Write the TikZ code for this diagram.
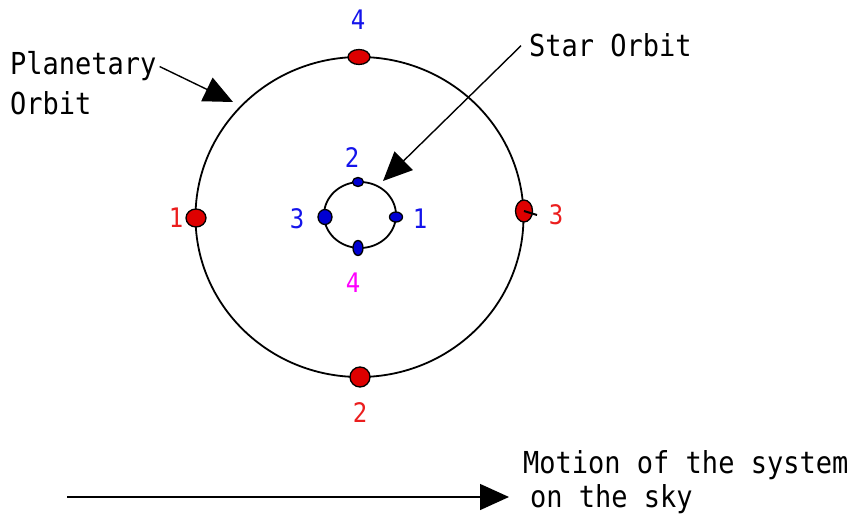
\documentclass[tikz,border=0pt]{standalone}
\usepackage{fontspec}
\setmonofont{DejaVu Sans Mono}
\usetikzlibrary{arrows.meta,shapes.geometric}
\definecolor{dotred}{RGB}{222,0,0}
\definecolor{dotblue}{RGB}{0,0,210}
\definecolor{labred}{RGB}{235,30,30}
\definecolor{labblue}{RGB}{20,20,235}
\definecolor{labmag}{RGB}{255,0,255}
\newcommand\vstretch[1]{\scalebox{1}[1.12]{#1}}
\begin{document}
\begin{tikzpicture}[x=1pt,y=-1pt,
  orbit/.style={draw=black,line width=1.8pt},
  dotnode/.style={ellipse,draw=black,line width=1.3pt,inner sep=0pt},
  pdot/.style={dotnode,fill=dotred},
  sdot/.style={dotnode,fill=dotblue},
  numlbl/.style={inner sep=0pt,font=\fontsize{24}{24}\selectfont\ttfamily},
  txt/.style={inner sep=0pt,anchor=base west,font=\fontsize{27}{27}\selectfont\ttfamily},
  arr/.style={line width=1.4pt,-{Triangle[length=29pt,width=26pt]}}]
\useasboundingbox (0,0) rectangle (857,521);
% orbits
\draw[orbit] (359.5,217) ellipse [x radius=164, y radius=160];
\draw[orbit] (360,215) ellipse [x radius=36, y radius=33];
% planet positions
\node[pdot,minimum width=22pt,minimum height=15pt] (p4) at (359,57) {};
\node[pdot,minimum width=20pt,minimum height=18pt] (p1) at (196,218) {};
\node[pdot,minimum width=20pt,minimum height=20pt] (p2) at (360,377) {};
\node[pdot,minimum width=17pt,minimum height=22pt] (p3) at (524,211) {};
\draw[line width=2pt] (p3.center) -- ++(13,4) coordinate (p3bar);
% star positions
\node[sdot,minimum width=11pt,minimum height=9pt] (s2) at (358,182) {};
\node[sdot,minimum width=14pt,minimum height=15pt] (s3) at (325,217) {};
\node[sdot,minimum width=13pt,minimum height=10pt] (s1) at (396,217) {};
\node[sdot,minimum width=10pt,minimum height=15pt] (s4) at (358,248) {};
% planet labels
\node[numlbl,text=labblue] (lp4) at (358,20) {\vstretch{4}};
\node[numlbl,text=labred] (lp1) at (176,218) {\vstretch{1}};
\node[numlbl,text=labred] (lp3) at (556,215) {\vstretch{3}};
\node[numlbl,text=labred] (lp2) at (360,413) {\vstretch{2}};
% star labels
\node[numlbl,text=labblue] (ls2) at (352,158) {\vstretch{2}};
\node[numlbl,text=labblue] (ls3) at (297,219) {\vstretch{3}};
\node[numlbl,text=labblue] (ls1) at (420,219) {\vstretch{1}};
\node[numlbl,text=labmag] (ls4) at (353,283) {\vstretch{4}};
% texts
\node[txt] (plan) at (10,75) {\vstretch{Planetary}};
\node[txt] (plan2) at (10,115) {\vstretch{Orbit}};
\node[txt] (star) at (529,57) {\vstretch{Star Orbit}};
\node[txt] (mot1) at (523,473) {\vstretch{Motion of the system}};
\node[txt] (mot2) at (530,507) {\vstretch{on the sky}};
% arrows
\coordinate (pa) at (233,102);
\coordinate (sa) at (383,181);
\coordinate (ms) at (67,497);
\coordinate (me) at (509,497);
\draw[arr] ([xshift=3pt]plan.east) -- (pa);
\draw[arr] ([xshift=-8pt]star.west) -- (sa);
\draw[arr] (ms) -- (me);
\end{tikzpicture}
\end{document}
